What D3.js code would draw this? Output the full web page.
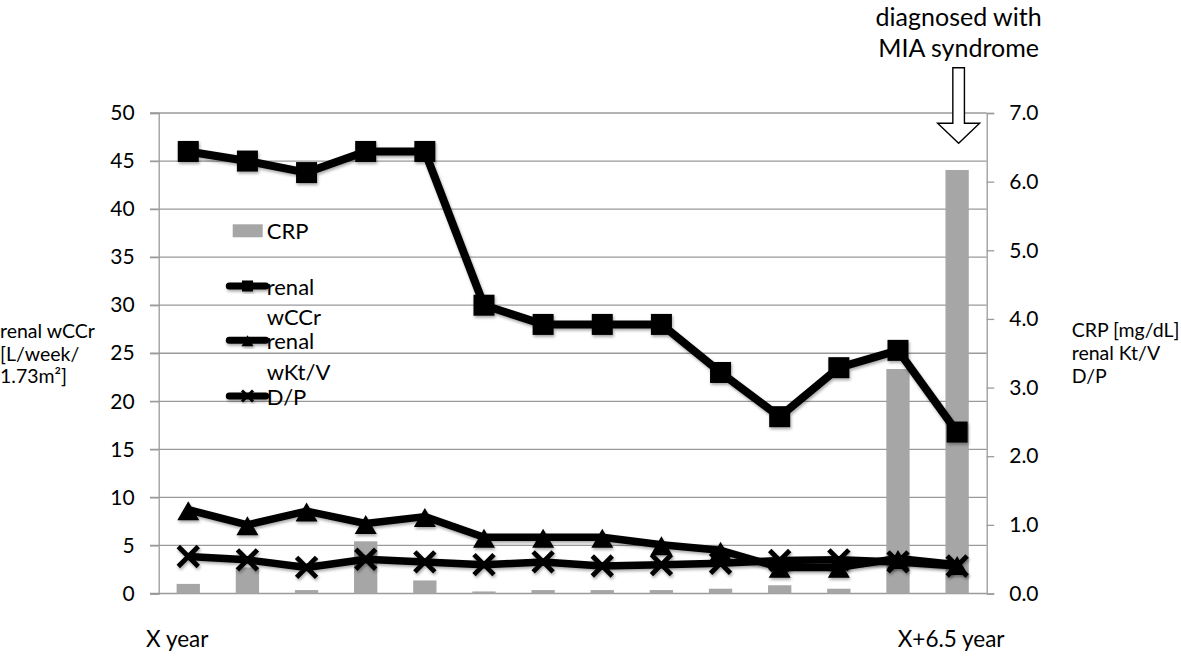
<!DOCTYPE html>
<html><head><meta charset="utf-8">
<script src="https://cdn.jsdelivr.net/npm/d3@7"></script>
<style>
html,body{margin:0;padding:0;background:#fff;}
svg{display:block;font-family:Lato,"Open Sans",sans-serif;}
</style></head>
<body>
<svg id="c" width="1181" height="656"></svg>
<script>
// ---- data ----
const categories = ["X year","","","","","","","","","","","","","X+6.5 year"];
const crp  = [0.14, 0.38, 0.05, 0.76, 0.19, 0.03, 0.05, 0.05, 0.05, 0.07, 0.12, 0.07, 3.27, 6.17];
const wccr = [46, 45, 43.8, 46, 46, 30, 28, 28, 28, 23, 18.4, 23.5, 25.3, 16.8];
const ktv  = [1.22, 1.0, 1.2, 1.02, 1.12, 0.82, 0.82, 0.82, 0.71, 0.63, 0.38, 0.38, 0.51, 0.42];
const dp   = [0.54, 0.49, 0.38, 0.50, 0.46, 0.42, 0.46, 0.40, 0.42, 0.44, 0.48, 0.49, 0.46, 0.40];
const leftTicks  = [0,5,10,15,20,25,30,35,40,45,50];
const rightTicks = [0,1,2,3,4,5,6,7];
const leftTitle  = ["renal wCCr","[L/week/","1.73m²]"];
const rightTitle = ["CRP [mg/dL]","renal Kt/V","D/P"];
const annotation = ["diagnosed with","MIA syndrome"];
const legendItems = [
  {type:"bar", lines:["CRP"]},
  {type:"square", lines:["renal","wCCr"]},
  {type:"triangle", lines:["renal","wKt/V"]},
  {type:"x", lines:["D/P"]}
];

// ---- layout ----
const L = 158.7, R = 986.7, T = 113, B = 593.5;
const svg = d3.select("#c");
const idx = d3.range(categories.length);
const x = d3.scaleBand().domain(idx).range([L, R]).paddingInner(0).paddingOuter(0);
const yL = d3.scaleLinear().domain([0,50]).range([B, T]);
const yR = d3.scaleLinear().domain([0,7]).range([B, T]);
const cx = i => x(i) + x.bandwidth()/2;
const gridCol = "#9a9a9a";

const defs = svg.append("defs");
const f = defs.append("filter").attr("id","sh").attr("x","-20%").attr("y","-20%").attr("width","140%").attr("height","140%");
f.append("feDropShadow").attr("dx",1).attr("dy",2).attr("stdDeviation",1.6).attr("flood-color","#000").attr("flood-opacity",0.35);

// gridlines
svg.append("g").selectAll("line").data(leftTicks).join("line")
  .attr("x1", 150).attr("x2", R).attr("y1", d=>yL(d)).attr("y2", d=>yL(d))
  .attr("stroke", gridCol).attr("stroke-width", 1.3);

// left axis
const ga = svg.append("g").attr("transform",`translate(${L},0)`)
  .call(d3.axisLeft(yL).tickValues(leftTicks).tickSize(8.7).tickPadding(15).tickFormat(d3.format("d")));
ga.select(".domain").attr("stroke", gridCol).attr("stroke-width",1.3);
ga.selectAll(".tick line").attr("stroke", gridCol).attr("stroke-width",1.3);
ga.selectAll("text").attr("font-size",21).attr("fill","#000").attr("font-family","Lato").attr("x",-24);

// right axis
const gr = svg.append("g").attr("transform",`translate(${R},0)`)
  .call(d3.axisRight(yR).tickValues(rightTicks).tickSize(7.5).tickPadding(15).tickFormat(d3.format(".1f")));
gr.select(".domain").attr("stroke", gridCol).attr("stroke-width",1.3);
gr.selectAll(".tick line").attr("stroke", gridCol).attr("stroke-width",1.3);
gr.selectAll("text").attr("font-size",21).attr("fill","#000").attr("font-family","Lato");

// bottom category labels
const gb = svg.append("g").attr("transform",`translate(0,${B})`)
  .call(d3.axisBottom(x).tickSize(0).tickPadding(0).tickFormat(i=>categories[i]));
gb.select(".domain").remove();
gb.selectAll("text").attr("font-size",22.5).attr("fill","#000").attr("font-family","Lato")
  .attr("dy",null).attr("y",53).attr("dx",(d,i)=> i===0 ? -11 : -6);

// bars
const bw = x.bandwidth()*0.394;
svg.append("g").selectAll("rect").data(crp).join("rect")
  .attr("x",(d,i)=>cx(i)-bw/2).attr("width",bw)
  .attr("y",d=>yR(d)).attr("height",d=>B-yR(d)).attr("fill","#a6a6a6");

// markers
function square(g,px,py,s){ g.append("rect").attr("x",px-s/2).attr("y",py-s/2).attr("width",s).attr("height",s).attr("fill","#000"); }
function tri(g,px,py,w,h){ g.append("path").attr("d",`M${px},${py-h*0.45}L${px+w/2},${py+h*0.55}L${px-w/2},${py+h*0.55}Z`).attr("fill","#000"); }
function xm(g,px,py,s,sw){ g.append("path").attr("d",`M${px-s/2},${py-s/2}L${px+s/2},${py+s/2}M${px+s/2},${py-s/2}L${px-s/2},${py+s/2}`).attr("stroke","#000").attr("stroke-width",sw).attr("fill","none"); }

function series(data, scale, lw, marker){
  const g = svg.append("g").attr("filter","url(#sh)");
  g.append("path").datum(data)
    .attr("d", d3.line().x((d,i)=>cx(i)).y(d=>scale(d)))
    .attr("fill","none").attr("stroke","#000").attr("stroke-width",lw).attr("stroke-linejoin","round");
  data.forEach((d,i)=>marker(g, cx(i), scale(d)));
}
series(wccr, yL, 8, (g,px,py)=>square(g,px,py,21));
series(ktv, yR, 7.5, (g,px,py)=>tri(g,px,py,22,19));
series(dp, yR, 7.5, (g,px,py)=>xm(g,px,py,20,4.8));

// legend
const lg = svg.append("g");
const lgX = 266.7, lineX1 = 229.3, lineX2 = 265.7;
const baseY = [239.3, 295, 349.3, 405];
const lineGap = [0, 30, 31, 0];
legendItems.forEach((it,k)=>{
  const by = baseY[k];
  if(it.type==="bar"){
    lg.append("rect").attr("x",232.7).attr("y",224.3).attr("width",30).attr("height",13).attr("fill","#a6a6a6");
  } else {
    const my = by - 9;
    const g = lg.append("g").attr("filter","url(#sh)");
    g.append("line").attr("x1",lineX1).attr("x2",lineX2).attr("y1",my).attr("y2",my)
      .attr("stroke","#000").attr("stroke-width",7).attr("stroke-linecap","round");
    const mx = (lineX1+lineX2)/2;
    if(it.type==="square") square(g,mx,my,11);
    if(it.type==="triangle") tri(g,mx,my,12,11);
    if(it.type==="x") xm(g,mx,my,11,3);
  }
  it.lines.forEach((t,j)=>{
    lg.append("text").attr("x",lgX).attr("y",by + j*lineGap[k]).attr("font-size",22).text(t);
  });
});

// axis titles
svg.append("g").selectAll("text").data(leftTitle).join("text")
  .attr("x",0).attr("y",(d,i)=>338.3+i*22.2).attr("font-size",19.5).text(d=>d);
svg.append("g").selectAll("text").data(rightTitle).join("text")
  .attr("x",1071.7).attr("y",(d,i)=>337.3+i*22.7).attr("font-size",19.5).text(d=>d);

// annotation
const ax = cx(categories.length-1)+1.5;
svg.append("g").selectAll("text").data(annotation).join("text")
  .attr("x",ax).attr("y",(d,i)=>26+i*30.5).attr("text-anchor","middle").attr("font-size",25).text(d=>d);
const sw = 11.6, hw = 42, topY = 67.7, neckY = 123.3, tipY = 143.3;
svg.append("path")
  .attr("d",`M${ax-sw/2},${topY}L${ax+sw/2},${topY}L${ax+sw/2},${neckY}L${ax+hw/2},${neckY}L${ax},${tipY}L${ax-hw/2},${neckY}L${ax-sw/2},${neckY}Z`)
  .attr("fill","#fff").attr("stroke","#000").attr("stroke-width",1.4);
</script>
</body></html>
